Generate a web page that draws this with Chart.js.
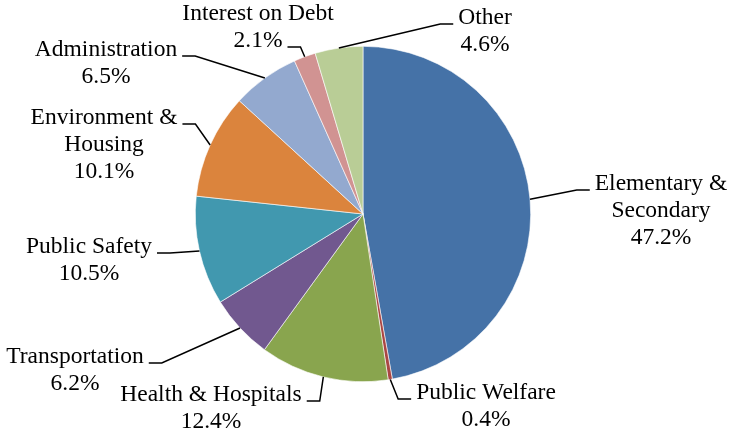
<!DOCTYPE html>
<html>
<head>
<meta charset="utf-8">
<script src="https://cdn.jsdelivr.net/npm/chart.js@4.4.0/dist/chart.umd.min.js"></script>
<style>
  html, body { margin: 0; padding: 0; background: #fff; }
  #wrap { width: 729px; height: 434px; position: relative; }
</style>
</head>
<body>
<div id="wrap"><canvas id="pie"></canvas></div>
<script>
// ── DADOS ────────────────────────────────────────────────────────────────────
const categories = [
  'Elementary & Secondary', 'Public Welfare', 'Health & Hospitals', 'Transportation',
  'Public Safety', 'Environment & Housing', 'Administration', 'Interest on Debt', 'Other'
]
const shares = [47.2, 0.4, 12.4, 6.2, 10.5, 10.1, 6.5, 2.1, 4.6]
const sliceColors = [
  '#4572A7', '#AA4643', '#89A54E', '#71588F', '#4198AF',
  '#DB843D', '#93A9CF', '#D19392', '#B9CD96'
]
// como o texto quebra em cada rótulo
const labelText = [
  ['Elementary &', 'Secondary'],
  ['Public Welfare'],
  ['Health & Hospitals'],
  ['Transportation'],
  ['Public Safety'],
  ['Environment &', 'Housing'],
  ['Administration'],
  ['Interest on Debt'],
  ['Other']
]

// ── LAYOUT DOS RÓTULOS (relativo ao centro da pizza) ─────────────────────────
// dx = centro do bloco de texto, dy = linha de base da primeira linha
// side = lado do texto onde chega a linha guia; line = linha que recebe a guia
const labelLayout = [
  { dx: 298, dy: -24, side: 'left', line: 0 },
  { dx: 123, dy: 185, side: 'left', line: 0 },
  { dx: -152, dy: 187, side: 'right', line: 0 },
  { dx: -288, dy: 149, side: 'right', line: 0 },
  { dx: -274, dy: 39, side: 'right', line: 0 },
  { dx: -259, dy: -90, side: 'right', line: 0 },
  { dx: -257, dy: -158, side: 'right', line: 0 },
  { dx: -105, dy: -194, side: 'right', line: 1 },
  { dx: 122, dy: -190, side: 'left', line: 0 }
]

const FONT = '23.5px "Liberation Serif", "Times New Roman", serif'
const LINE_H = 27

// ── PLUGIN: rótulos com linha guia ──────────────────────────────────────────
const leaderLabels = {
  id: 'leaderLabels',
  afterDraw(chart) {
    const ctx = chart.ctx
    const meta = chart.getDatasetMeta(0)
    ctx.save()
    ctx.font = FONT
    ctx.fillStyle = '#000'
    ctx.strokeStyle = '#000'
    ctx.lineWidth = 1.5
    ctx.textAlign = 'center'
    ctx.textBaseline = 'alphabetic'

    meta.data.forEach((arc, i) => {
      const p = arc.getProps(['x', 'y', 'startAngle', 'endAngle', 'outerRadius'], true)
      const lay = labelLayout[i]
      const lines = labelText[i].concat([shares[i].toFixed(1) + '%'])
      const cx = Math.round(p.x + lay.dx)
      const base = Math.round(p.y + lay.dy)

      lines.forEach((t, k) => ctx.fillText(t, cx, base + k * LINE_H))

      // ponto médio da fatia na borda
      const mid = (p.startAngle + p.endAngle) / 2
      const ex = p.x + Math.cos(mid) * p.outerRadius
      const ey = p.y + Math.sin(mid) * p.outerRadius

      const w = ctx.measureText(lines[lay.line]).width
      const ly = base + lay.line * LINE_H
      let endX, elbowX
      if (lay.side === 'right') {
        endX = cx + w / 2 + 5
        elbowX = endX + 13
      } else {
        endX = cx - w / 2 - 5
        elbowX = endX - 13
      }
      ctx.beginPath()
      ctx.moveTo(ex, ey)
      ctx.lineTo(elbowX, ly)
      ctx.lineTo(endX, ly)
      ctx.stroke()
    })
    ctx.restore()
  }
}

new Chart(document.getElementById('pie'), {
  type: 'pie',
  data: {
    labels: categories,
    datasets: [{
      data: shares,
      backgroundColor: sliceColors,
      borderColor: '#ffffff',
      borderWidth: 0.6
    }]
  },
  options: {
    responsive: true,
    maintainAspectRatio: false,
    animation: false,
    layout: { padding: { top: 46, bottom: 52, left: 195, right: 198 } },
    plugins: {
      legend: { display: false },
      tooltip: { enabled: false }
    }
  },
  plugins: [leaderLabels]
})
</script>
</body>
</html>
